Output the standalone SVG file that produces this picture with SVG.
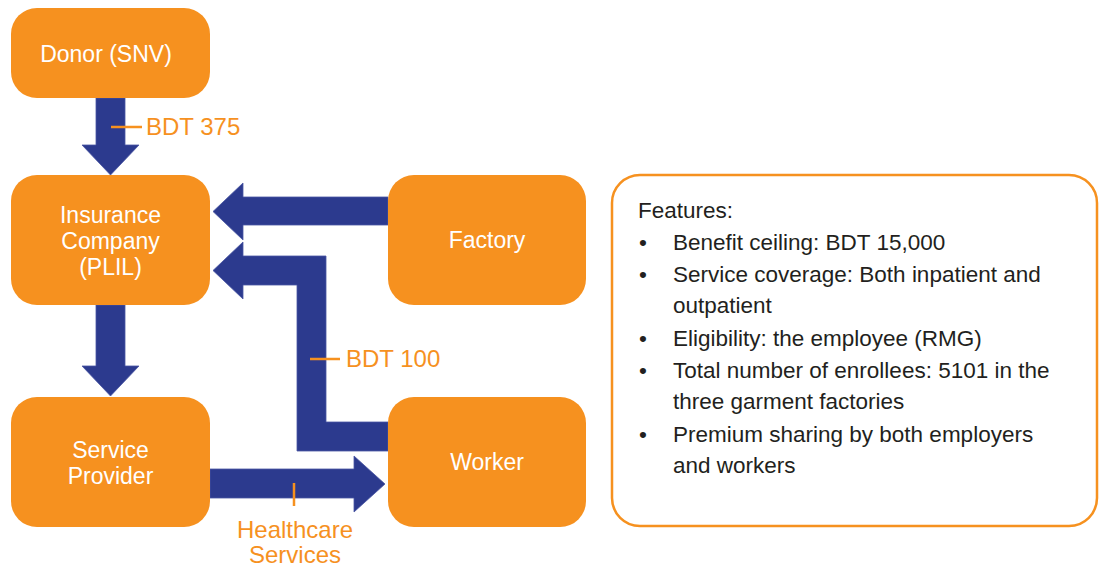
<svg xmlns="http://www.w3.org/2000/svg" width="1099" height="567" viewBox="0 0 1099 567">
  <style>
    .node rect { fill: #F6911F; }
    .node text { fill: #ffffff; font-family: "Liberation Sans", Arial, sans-serif; font-size: 23px; text-anchor: middle; }
    .flow { fill: #2C3A8E; stroke: #4A57A3; stroke-width: 0.8; }
    .tick { stroke: #F6911F; stroke-width: 2.5; fill: none; }
    .lbl { fill: #F6911F; font-family: "Liberation Sans", Arial, sans-serif; font-size: 24px; }
    .panel { fill: #ffffff; stroke: #F6911F; stroke-width: 2.5; }
    .feat { fill: #231F20; font-family: "Liberation Sans", Arial, sans-serif; font-size: 22.5px; }
  </style>

  <!-- flows between parties -->
  <g id="connectors">
    <!-- Donor -> Insurance -->
    <polygon class="flow" points="96,98 125,98 125,145 139,145 110.5,175 82,145 96,145"/>
    <!-- Insurance -> Service Provider -->
    <polygon class="flow" points="96,305 125,305 125,366 139,366 110.5,396 82,366 96,366"/>
    <!-- Factory -> Insurance -->
    <polygon class="flow" points="388,197 388,225 243,225 243,240 213,211.5 243,183 243,197"/>
    <!-- Worker -> Insurance -->
    <polygon class="flow" points="213,270.5 243,242 243,256 326,256 326,422 388,422 388,451 297,451 297,285 243,285 243,299"/>
    <!-- Service Provider -> Worker -->
    <polygon class="flow" points="210,469 354,469 354,456 385,484 354,512 354,498 210,498"/>

    <!-- flow labels -->
    <line class="tick" x1="111" y1="127" x2="142" y2="127"/>
    <text class="lbl" x="146" y="135">BDT 375</text>
    <line class="tick" x1="310" y1="359" x2="340" y2="359"/>
    <text class="lbl" x="346" y="367">BDT 100</text>
    <line class="tick" x1="294" y1="483" x2="294" y2="506"/>
    <text class="lbl" x="295" y="538" text-anchor="middle">Healthcare</text>
    <text class="lbl" x="295" y="563" text-anchor="middle">Services</text>
  </g>

  <g id="donor" class="node">
    <rect x="11" y="8" width="199" height="90" rx="26"/>
    <text x="106" y="62">Donor (SNV)</text>
  </g>

  <g id="insurance" class="node">
    <rect x="11" y="175" width="199" height="130" rx="26"/>
    <text x="110.5" y="223">Insurance</text>
    <text x="110.5" y="249">Company</text>
    <text x="110.5" y="275">(PLIL)</text>
  </g>

  <g id="service-provider" class="node">
    <rect x="11" y="397" width="199" height="130" rx="26"/>
    <text x="110.5" y="458">Service</text>
    <text x="110.5" y="484">Provider</text>
  </g>

  <g id="factory" class="node">
    <rect x="388" y="175" width="198" height="130" rx="26"/>
    <text x="487" y="248">Factory</text>
  </g>

  <g id="worker" class="node">
    <rect x="388" y="397" width="198" height="130" rx="26"/>
    <text x="487" y="470">Worker</text>
  </g>

  <g id="features">
    <rect class="panel" x="612" y="175" width="485" height="351" rx="28"/>
    <text class="feat" x="638" y="218">Features:</text>
    <g class="feat">
      <text x="639" y="250">•</text>
      <text x="673" y="250">Benefit ceiling: BDT 15,000</text>
      <text x="639" y="282">•</text>
      <text x="673" y="282">Service coverage: Both inpatient and</text>
      <text x="673" y="313">outpatient</text>
      <text x="639" y="346">•</text>
      <text x="673" y="346">Eligibility: the employee (RMG)</text>
      <text x="639" y="378">•</text>
      <text x="673" y="378">Total number of enrollees: 5101 in the</text>
      <text x="673" y="409">three garment factories</text>
      <text x="639" y="442">•</text>
      <text x="673" y="442">Premium sharing by both employers</text>
      <text x="673" y="473">and workers</text>
    </g>
  </g>
</svg>
